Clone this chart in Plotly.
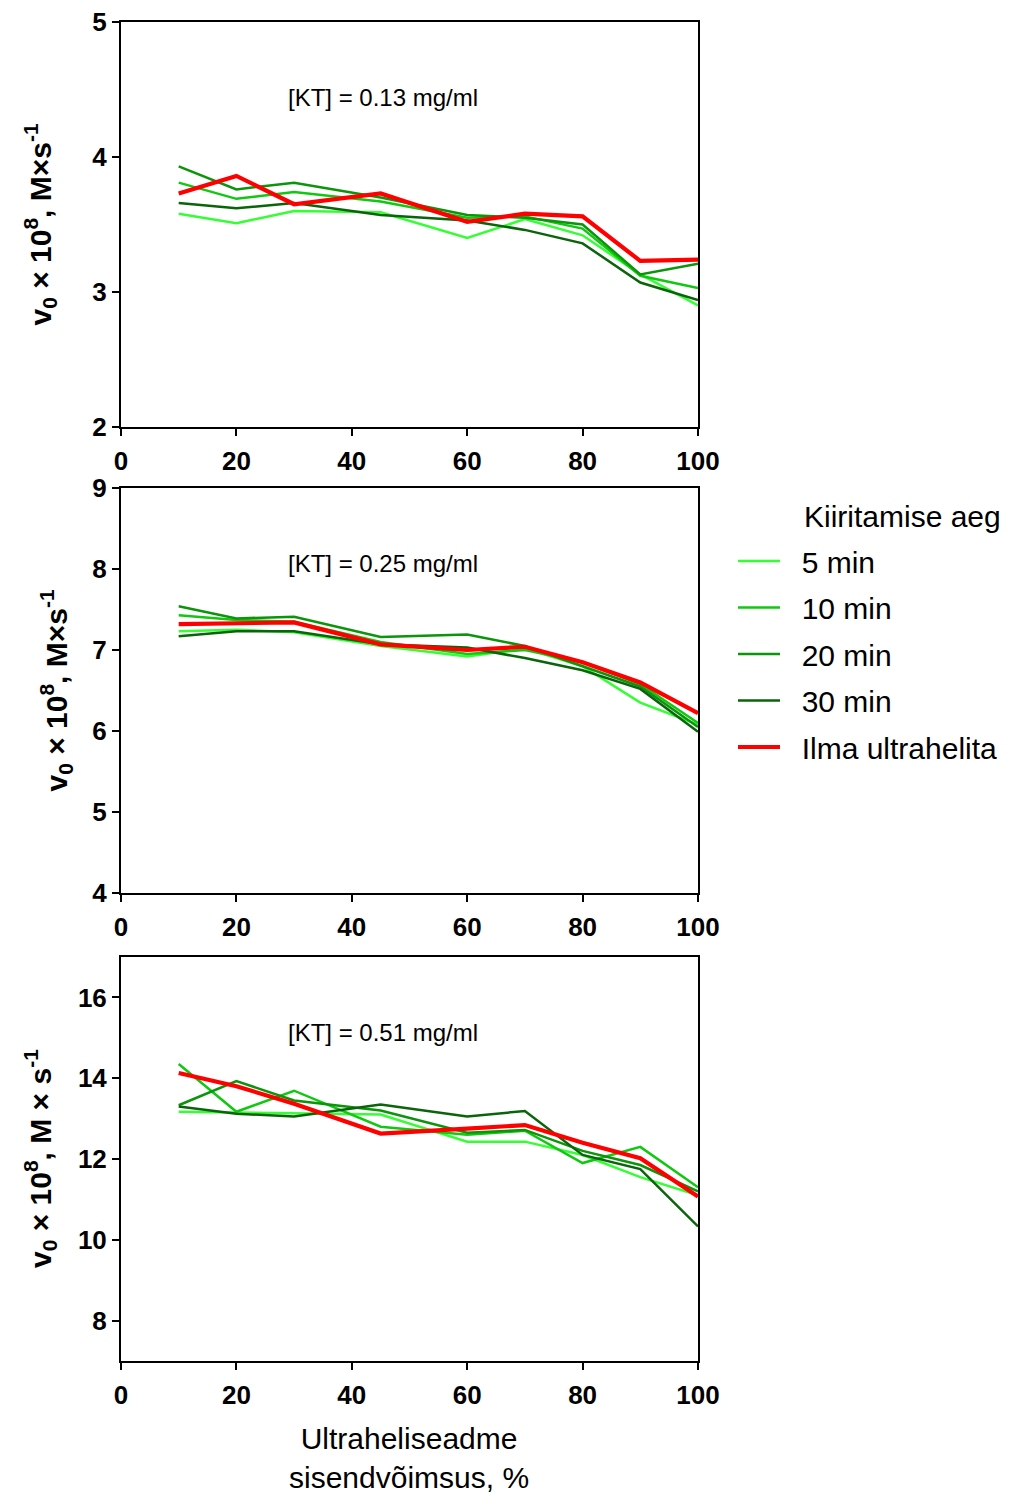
import plotly.graph_objects as go

# ---------------- data ----------------
power = [10, 20, 30, 45, 60, 70, 80, 90, 100]
series_names = ["5 min", "10 min", "20 min", "30 min", "Ilma ultrahelita"]

# [KT] = 0.13 mg/ml
p1_5 = [3.58, 3.51, 3.60, 3.59, 3.40, 3.54, 3.42, 3.13, 2.90]
p1_10 = [3.81, 3.69, 3.74, 3.67, 3.55, 3.56, 3.47, 3.12, 3.03]
p1_20 = [3.93, 3.76, 3.81, 3.70, 3.57, 3.55, 3.50, 3.13, 3.21]
p1_30 = [3.66, 3.62, 3.66, 3.57, 3.53, 3.46, 3.36, 3.07, 2.94]
p1_ctrl = [3.73, 3.86, 3.65, 3.73, 3.52, 3.58, 3.56, 3.23, 3.24]

# [KT] = 0.25 mg/ml
p2_5 = [7.23, 7.25, 7.22, 7.05, 6.92, 7.02, 6.80, 6.35, 6.08]
p2_10 = [7.43, 7.37, 7.35, 7.10, 6.95, 7.00, 6.85, 6.58, 6.10]
p2_20 = [7.54, 7.39, 7.41, 7.16, 7.19, 7.05, 6.80, 6.55, 6.05]
p2_30 = [7.17, 7.23, 7.23, 7.07, 7.03, 6.90, 6.75, 6.52, 5.99]
p2_ctrl = [7.32, 7.33, 7.34, 7.07, 7.00, 7.04, 6.85, 6.60, 6.22]

# [KT] = 0.51 mg/ml
p3_5 = [13.17, 13.15, 13.12, 13.10, 12.43, 12.43, 12.10, 11.55, 11.10]
p3_10 = [14.35, 13.17, 13.69, 12.80, 12.60, 12.70, 11.90, 12.30, 11.30]
p3_20 = [13.33, 13.93, 13.45, 13.20, 12.65, 12.72, 12.20, 11.85, 11.20]
p3_30 = [13.30, 13.12, 13.05, 13.35, 13.05, 13.19, 12.10, 11.75, 10.33]
p3_ctrl = [14.13, 13.80, 13.37, 12.63, 12.75, 12.84, 12.40, 12.02, 11.07]

panels = [
    {"data": [p1_5, p1_10, p1_20, p1_30, p1_ctrl], "label": "[KT] = 0.13 mg/ml",
     "yrange": [2, 5], "ytick": 1,
     "ytitle": "v<sub>0</sub> × 10<sup>8</sup>, M×s<sup>-1</sup>"},
    {"data": [p2_5, p2_10, p2_20, p2_30, p2_ctrl], "label": "[KT] = 0.25 mg/ml",
     "yrange": [4, 9], "ytick": 1,
     "ytitle": "v<sub>0</sub> × 10<sup>8</sup>, M×s<sup>-1</sup>"},
    {"data": [p3_5, p3_10, p3_20, p3_30, p3_ctrl], "label": "[KT] = 0.51 mg/ml",
     "yrange": [7, 17], "ytick": 2, "ytick0": 8,
     "ytitle": "v<sub>0</sub> × 10<sup>8</sup>, M × s<sup>-1</sup>"},
]

x_ticks = [0, 20, 40, 60, 80, 100]
legend_title = "Kiiritamise aeg"
x_title = "Ultraheliseadme<br>sisendvõimsus, %"

# ---------------- style ----------------
W, H = 1013, 1495
OFF = 8  # page body margin: screen px = figure px + 8
colors = ["#33FF33", "#11C811", "#0A950A", "#0A640A", "#FF0000"]
widths = [2.5, 2.5, 2.5, 2.5, 4.2]
FONT = "Liberation Sans, Arial, sans-serif"


def fx(px):
    return (px - OFF) / W


def fy(py):
    return 1 - (py - OFF) / H


# plot areas in screen pixels (reference coords)
px_x = (121, 698)
px_y = [(22, 427), (488, 893), (957, 1361)]
ytitle_x = [40, 56, 40]

fig = go.Figure()

for i, p in enumerate(panels):
    xa = "x" if i == 0 else f"x{i+1}"
    ya = "y" if i == 0 else f"y{i+1}"
    for j, (name, vals) in enumerate(zip(series_names, p["data"])):
        fig.add_trace(go.Scatter(
            x=power, y=vals, mode="lines", name="\u00a0\u00a0" + name,
            line=dict(color=colors[j], width=widths[j]),
            xaxis=xa, yaxis=ya,
            showlegend=(i == 0), legendgroup=f"g{j}",
        ))
    top, bot = px_y[i]
    axis_common = dict(showline=True, linecolor="black", linewidth=2, mirror=True,
                       ticks="outside", ticklen=7, tickwidth=2, tickcolor="black",
                       showgrid=False, zeroline=False, automargin=False,
                       ticklabeloverflow="allow",
                       tickfont=dict(family=FONT, size=26, color="black", weight="bold"))
    fig.layout[("xaxis" if i == 0 else f"xaxis{i+1}")] = dict(
        domain=[fx(px_x[0]), fx(px_x[1])], range=[0, 100], tickvals=x_ticks,
        anchor=ya, ticklabelstandoff=3, **axis_common)
    fig.layout[("yaxis" if i == 0 else f"yaxis{i+1}")] = dict(
        domain=[fy(bot), fy(top)], range=p["yrange"], dtick=p["ytick"], anchor=xa,
        tick0=p.get("ytick0", 0), **axis_common)
    # concentration label
    fig.add_annotation(text=p["label"], xref="paper", yref="paper",
                       x=fx(383), y=fy(top + 75), showarrow=False,
                       xanchor="center", yanchor="middle",
                       font=dict(family=FONT, size=24, color="black"))
    # y title
    fig.add_annotation(text=p["ytitle"], xref="paper", yref="paper",
                       x=fx(ytitle_x[i]), y=fy((top + bot) / 2), showarrow=False,
                       textangle=-90, xanchor="center", yanchor="middle",
                       font=dict(family=FONT, size=30, color="black", weight="bold"))

# x title
fig.add_annotation(text=x_title, xref="paper", yref="paper",
                   x=fx(409), y=fy(1458), showarrow=False,
                   xanchor="center", yanchor="middle",
                   font=dict(family=FONT, size=30, color="black"))
# legend title
fig.add_annotation(text=legend_title, xref="paper", yref="paper",
                   x=fx(802), y=fy(517), showarrow=False,
                   xanchor="left", yanchor="middle",
                   font=dict(family=FONT, size=30, color="black"))

fig.update_layout(
    width=W, height=H,
    margin=dict(l=0, r=0, t=0, b=0, autoexpand=False),
    paper_bgcolor="white", plot_bgcolor="white",
    showlegend=True,
    legend=dict(x=fx(733), y=fy(535), xanchor="left", yanchor="top",
                font=dict(family=FONT, size=30, color="black"),
                tracegroupgap=4.5, traceorder="grouped",
                bgcolor="rgba(0,0,0,0)", itemwidth=42),
)

fig.write_html("out.html")
